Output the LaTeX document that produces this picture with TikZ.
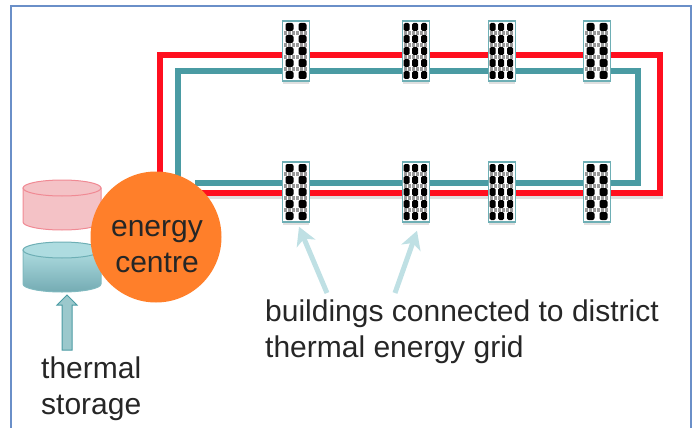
\documentclass[tikz,border=0pt]{standalone}
\usepackage{fontspec}
\setmainfont{Liberation Sans}
\usetikzlibrary{arrows.meta,calc}
\definecolor{framec}{HTML}{6A8FC8}
\definecolor{redpipe}{HTML}{FF0F1F}
\definecolor{tealpipe}{HTML}{4A9BA3}
\definecolor{orangec}{HTML}{FF7F2A}
\definecolor{pointerc}{HTML}{BFE0E4}
\definecolor{pinktank}{HTML}{F4C2C6}
\definecolor{pinkedge}{HTML}{F08A94}
\definecolor{tanktop}{HTML}{AEDCE0}
\definecolor{tankbot}{HTML}{74ABB3}
\tikzset{>=stealth,
  pipered/.style={draw=redpipe,line width=6pt,line join=miter},
  pipeteal/.style={draw=tealpipe,line width=5.5pt,line join=miter},
  pipeshadow/.style={draw=black!12,line width=6pt},
  house/.style={draw=tealpipe!80,line width=1.5pt,fill=white,inner sep=0pt,minimum width=27pt,minimum height=60pt},
  pointer/.style={draw=pointerc,line width=5pt,-{Stealth[length=18pt,width=20pt,inset=5pt]}},
  label/.style={align=left,font=\fontsize{30}{36}\selectfont,text=black!85,inner sep=0pt,anchor=west},
}
\begin{document}
\begin{tikzpicture}[x=1pt,y=-1pt]
\useasboundingbox (0,0) rectangle (696,428);
\draw[framec,line width=1.5pt] (11,428) -- (11,6) -- (691,6) -- (691,428);
% pipes
\coordinate (redin) at (160,185);
\coordinate (redout) at (200,193);
\coordinate (tealin) at (178,185);
\coordinate (tealout) at (195,183);
\draw[pipeshadow] (redout) ++(0,3) -- (660,196) -- (660,58);
\draw[pipered] (redin) -- (160,55) -- (660,55) -- (660,193) -- (redout);
\draw[pipeteal] (tealin) -- (178,71) -- (638,71) -- (638,183) -- (tealout);
% buildings
\foreach \n/\x/\w in {a/296/2,b/416/3,c/502/3,d/597/2}{
  \foreach \r/\y in {t/51,b/192}{
    \fill[black!12] (\x-13,\y+30) rectangle (\x+13,\y+33);
    \node[house] (\n\r) at (\x,\y) {};
    \foreach \k in {-2,...,2}{
      \ifnum\w=3
        \foreach \c in {-9.5,-1,8} \fill[rounded corners=1.5pt] (\x+\c-3,\y+\k*12-4) rectangle (\x+\c+3,\y+\k*12+4);
      \else
        \foreach \c in {-6.5,6.5} \fill[rounded corners=2pt] (\x+\c-4,\y+\k*12-4) rectangle (\x+\c+4,\y+\k*12+4);
      \fi
    }
    \foreach \k in {-1.5,-.5,.5,1.5}
      \draw[black!40,line width=3.5pt,dash pattern=on 3pt off 1pt] (\x-12,\y+\k*12) -- (\x+12,\y+\k*12);
  }
}
% thermal stores
\draw[draw=pinkedge,fill=pinktank,line width=1pt] (23,188) -- (23,222) arc[start angle=180,end angle=0,x radius=39,y radius=8]
  -- (101,188) -- cycle;
\draw[draw=pinkedge,fill=pinktank,line width=1pt] (62,188) ellipse [x radius=39,y radius=8];
\draw[draw=tealpipe!70,top color=tanktop,bottom color=tankbot,line width=1pt] (23,250) -- (23,284) arc[start angle=180,end angle=0,x radius=39,y radius=8]
  -- (101,250) -- cycle;
\draw[draw=tealpipe!80,fill=tanktop,line width=1pt] (62,250) ellipse [x radius=39,y radius=8];
\node[circle,fill=orangec,minimum size=131pt,inner sep=0pt] (centre) at (156,237) {};
\node[label,anchor=center,align=center] (centretext) at (157,247) {energy\\centre};
% labels
\node[label] (store) at (41,389) {thermal\\storage};
\node[label] (grid) at (265,332) {buildings connected to district\\thermal energy grid};
\coordinate (storetop) at (67,295);
\draw[draw=tealpipe,fill=tealpipe!55,line width=1pt] (62,350) -- (62,305) -- (57,305) -- (storetop) -- (77,305) -- (72,305) -- (72,350) -- cycle;
\coordinate (ga) at (327,293);
\coordinate (gb) at (395,293);
\draw[pointer] (ga) -- ([xshift=3pt,yshift=-4pt]ab.south);
\draw[pointer] (gb) -- ([xshift=1pt,yshift=-8pt]bb.south);
\end{tikzpicture}
\end{document}
